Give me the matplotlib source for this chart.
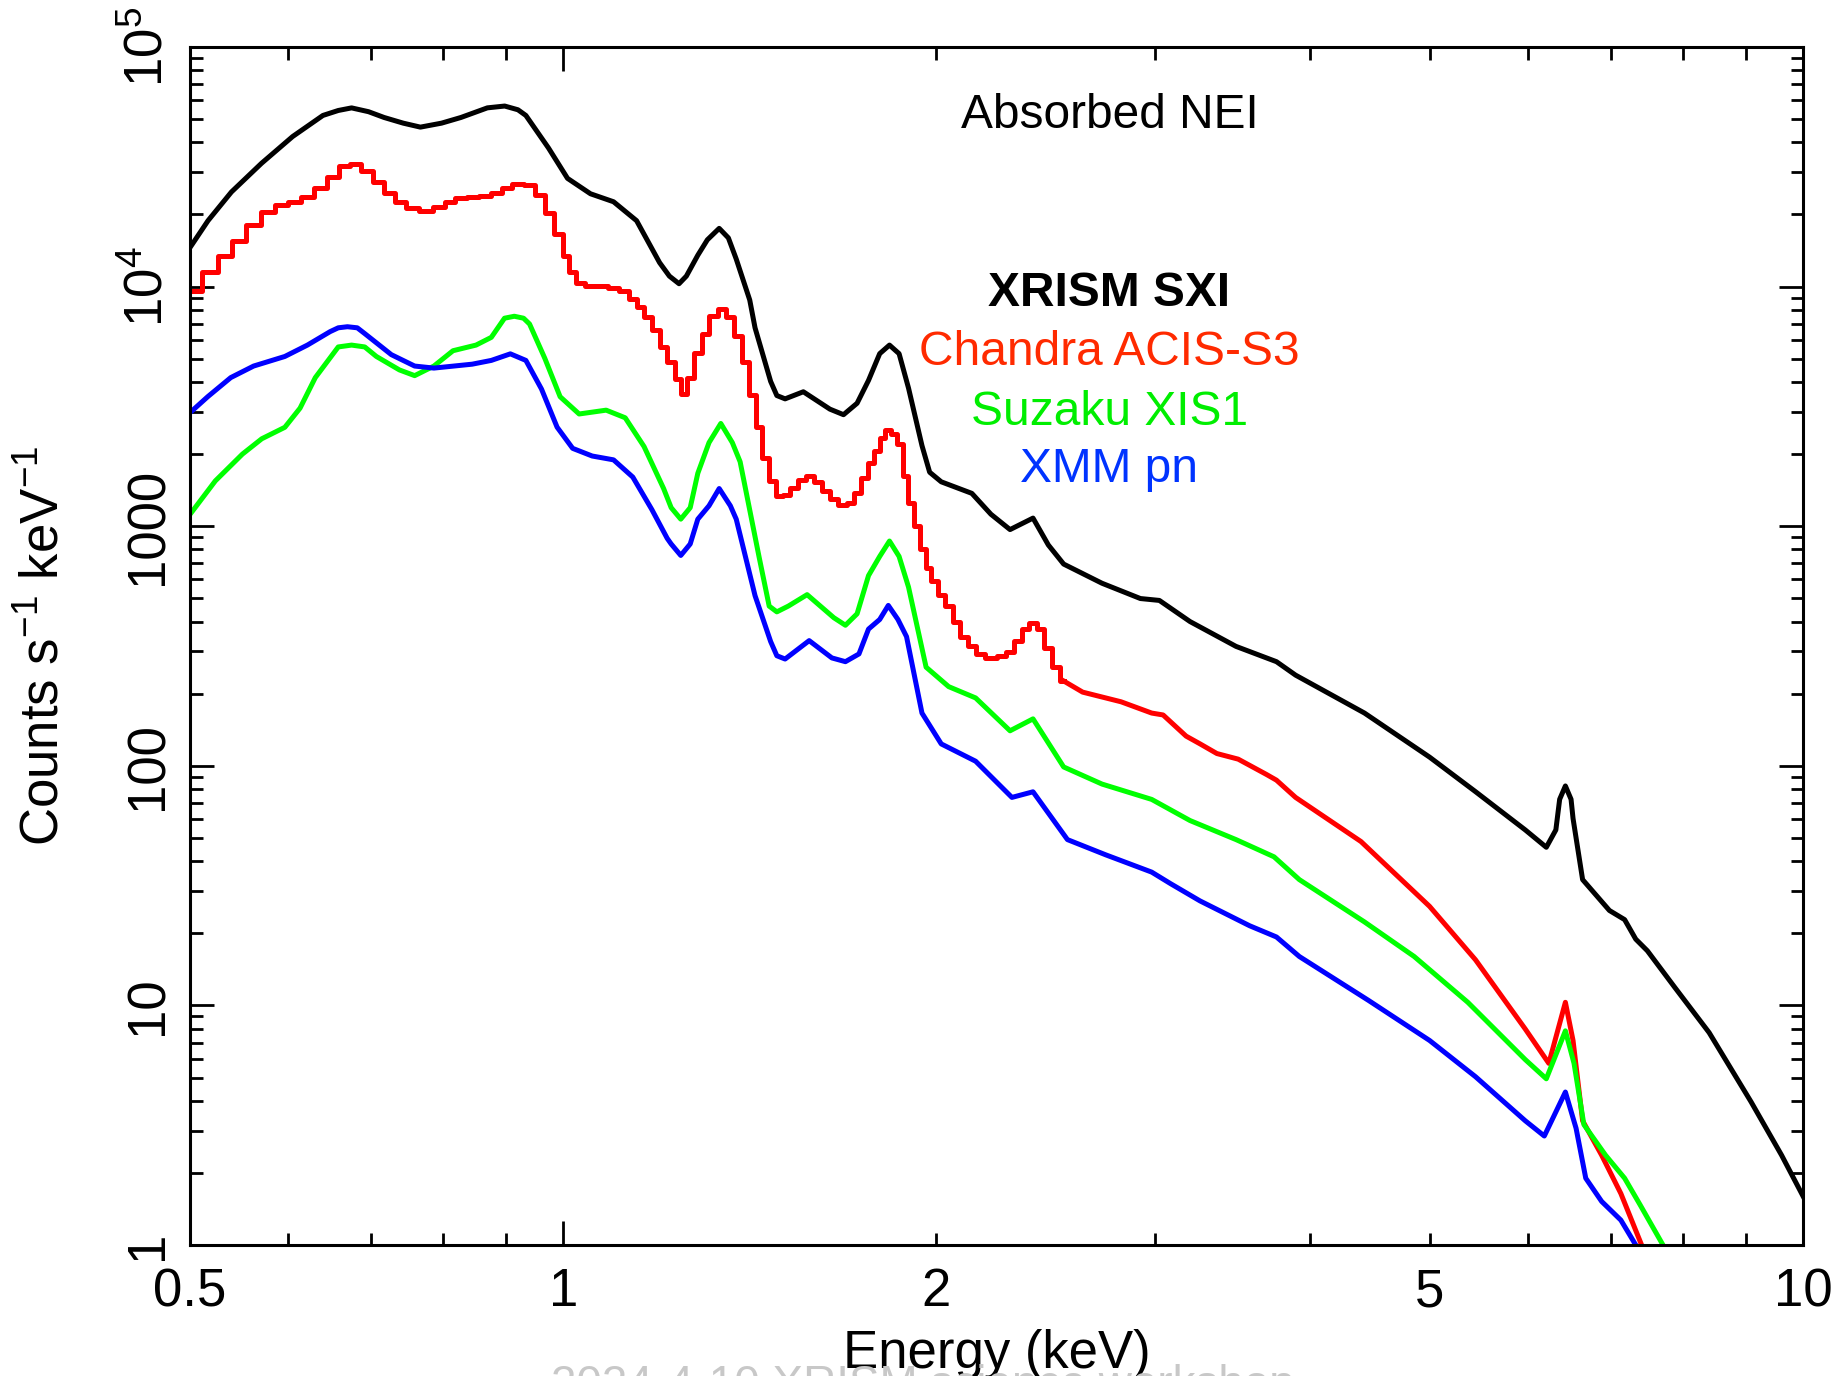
import numpy as np
import matplotlib
matplotlib.use("Agg")
import matplotlib.pyplot as plt
from matplotlib.ticker import FixedLocator, FuncFormatter, NullFormatter

plt.rcParams['font.family'] = ['Liberation Sans', 'DejaVu Sans']
plt.rcParams['mathtext.fontset'] = 'custom'
plt.rcParams['mathtext.rm'] = 'Liberation Sans'
plt.rcParams['mathtext.it'] = 'Liberation Sans:italic'
plt.rcParams['mathtext.bf'] = 'Liberation Sans:bold'

# XRISM SXI (absorbed NEI model), energy in keV, counts/s/keV
sxi_e = [0.500, 0.517, 0.540, 0.571, 0.605, 0.640, 0.6585, 0.675, 0.6966, 0.717,
         0.743, 0.767, 0.7977, 0.827, 0.8686, 0.897, 0.9194, 0.933, 0.973, 1.008,
         1.052, 1.098, 1.146, 1.196, 1.218, 1.240, 1.257, 1.284, 1.307, 1.336,
         1.359, 1.379, 1.414, 1.428, 1.470, 1.487, 1.510, 1.562, 1.641, 1.683,
         1.726, 1.763, 1.800, 1.833, 1.866, 1.899, 1.947, 1.975, 2.018, 2.136,
         2.213, 2.293, 2.393, 2.462, 2.533, 2.720, 2.921, 3.026, 3.203, 3.489,
         3.761, 3.897, 4.429, 4.998, 5.443, 5.970, 6.208, 6.319, 6.364, 6.432,
         6.500, 6.524, 6.641, 6.98, 7.18, 7.33, 7.49, 7.88, 8.40, 9.08,
         9.61, 10.0]
sxi_c = [14550, 18840, 24830, 32700, 42300, 51800, 54330, 55700, 53700, 50800,
         48100, 46300, 48100, 50800, 55720, 56700, 54700, 51800, 37900, 28300,
         24400, 22600, 18840, 12590, 11060, 10280, 11060, 13520, 15680, 17500,
         15970, 13030, 8790, 6730, 4020, 3510, 3400, 3640, 3080, 2920,
         3260, 4060, 5250, 5700, 5250, 3770, 2170, 1680, 1532, 1371,
         1122, 968, 1081, 835, 695, 578, 499, 490, 400, 315,
         272, 239, 166, 108.7, 78.0, 54.0, 45.7, 54.0, 72.5, 82.4,
         72.5, 60.3, 33.5, 24.9, 22.8, 18.9, 16.9, 11.9, 7.7, 3.96,
         2.37, 1.60]

# Chandra ACIS-S3, binned part (bin centres) drawn as steps
acis_bin_e = [0.497, 0.5043, 0.5187, 0.5338, 0.5479, 0.5627, 0.5781, 0.5929, 0.6068, 0.6211,
              0.6377, 0.6529, 0.6655, 0.6799, 0.6945, 0.7095, 0.7248, 0.7389, 0.7547, 0.7753,
              0.7949, 0.8103, 0.8265, 0.8455, 0.8656, 0.8843, 0.9001, 0.9194, 0.9406, 0.9575,
              0.9748, 0.9923, 1.0051, 1.016, 1.031, 1.053, 1.075, 1.098, 1.122, 1.138,
              1.154, 1.171, 1.188, 1.205, 1.222, 1.238, 1.250, 1.266, 1.284, 1.302,
              1.321, 1.343, 1.364, 1.384, 1.403, 1.422, 1.439, 1.456, 1.473, 1.496,
              1.513, 1.535, 1.557, 1.581, 1.607, 1.630, 1.653, 1.679, 1.707, 1.728,
              1.750, 1.771, 1.790, 1.809, 1.829, 1.848, 1.868, 1.888, 1.908, 1.929,
              1.950, 1.971, 1.992, 2.018, 2.046, 2.076, 2.106, 2.136, 2.166, 2.213,
              2.261, 2.293, 2.326, 2.360, 2.393, 2.427, 2.462, 2.497, 2.533]
acis_bin_c = [9616, 9616, 11550, 13430, 15560, 18030, 20420, 21830, 22490, 23660,
              25760, 28770, 31770, 32500, 30400, 27420, 24660, 22490, 21190, 20650,
              21590, 22650, 23500, 23770, 23850, 24660, 25760, 26920, 26430, 24200,
              20280, 16570, 13430, 11470, 10380, 10090, 10090, 9900, 9550, 8870,
              8240, 7460, 6610, 5600, 4830, 4100, 3575, 4170, 5300, 6370,
              7510, 8030, 7460, 6250, 4830, 3537, 2590, 1928, 1546, 1334,
              1347, 1450, 1561, 1619, 1532, 1397, 1298, 1228, 1251, 1372,
              1589, 1841, 2056, 2339, 2518, 2427, 2213, 1619, 1251, 1004,
              805, 670, 589, 518, 464, 400, 346, 315, 293, 282,
              288, 298, 333, 372, 393, 372, 310, 258, 226]
# Chandra ACIS-S3, high energy part
acis_e = [2.533, 2.624, 2.818, 2.983, 3.047, 3.180, 3.263, 3.367, 3.503, 3.692,
          3.761, 3.897, 4.400, 4.998, 5.443, 5.970, 6.237, 6.432, 6.524, 6.641,
          6.88, 7.13, 7.41]
acis_c = [226, 203, 185, 166, 163, 133, 123.5, 112.5, 106.6, 92,
          87.1, 73.8, 48.3, 25.9, 15.5, 7.97, 5.73, 10.3, 7.14, 3.30,
          2.37, 1.64, 1.0]

# Suzaku XIS1
xis_e = [0.5007, 0.5241, 0.5511, 0.5713, 0.5963, 0.6134, 0.6310, 0.6585, 0.6750, 0.6917,
         0.7068, 0.7377, 0.7589, 0.7865, 0.8149, 0.8505, 0.8750, 0.8967, 0.9132, 0.9290,
         0.9394, 0.9664, 0.9943, 1.030, 1.083, 1.122, 1.162, 1.205, 1.222, 1.244,
         1.266, 1.284, 1.311, 1.340, 1.369, 1.389, 1.439, 1.466, 1.487, 1.519,
         1.573, 1.653, 1.689, 1.726, 1.763, 1.800, 1.833, 1.866, 1.899, 1.962,
         2.046, 2.151, 2.293, 2.393, 2.533, 2.720, 2.983, 3.203, 3.489, 3.744,
         3.924, 4.429, 4.857, 5.366, 5.970, 6.208, 6.432, 6.536, 6.657, 6.93,
         7.18, 7.39, 7.71]
xis_c = [1131, 1546, 1999, 2317, 2587, 3110, 4170, 5600, 5700, 5600,
         5110, 4490, 4250, 4660, 5400, 5700, 6140, 7380, 7520, 7380,
         6980, 5020, 3470, 2940, 3050, 2835, 2150, 1436, 1195, 1070,
         1195, 1663, 2233, 2684, 2233, 1857, 741, 464, 439, 464,
         518, 415, 386, 431, 622, 748, 867, 748, 557, 258,
         214, 192, 140, 157, 98.9, 83.9, 72.4, 59.1, 49.2, 41.7,
         33.5, 22.3, 16.0, 10.3, 5.94, 4.94, 7.83, 5.73, 3.18, 2.37,
         1.90, 1.47, 1.0]

# XMM pn
pn_e = [0.5007, 0.5168, 0.5393, 0.5627, 0.5963, 0.6218, 0.6487, 0.6585, 0.6698, 0.6822,
        0.6916, 0.7267, 0.7589, 0.7865, 0.8445, 0.8750, 0.9065, 0.9330, 0.9605, 0.9887,
        1.0177, 1.0553, 1.098, 1.138, 1.179, 1.213, 1.222, 1.244, 1.266, 1.284,
        1.311, 1.336, 1.364, 1.379, 1.428, 1.470, 1.487, 1.510, 1.579, 1.647,
        1.689, 1.732, 1.763, 1.800, 1.829, 1.862, 1.892, 1.947, 2.018, 2.151,
        2.301, 2.393, 2.551, 2.739, 2.983, 3.090, 3.263, 3.578, 3.761, 3.924,
        4.461, 4.998, 5.443, 5.970, 6.185, 6.432, 6.561, 6.68, 6.88, 7.13,
        7.33]
pn_c = [2997, 3473, 4170, 4660, 5110, 5700, 6490, 6730, 6800, 6730,
        6370, 5200, 4660, 4570, 4745, 4920, 5240, 4920, 3735, 2590,
        2113, 1963, 1892, 1603, 1173, 890, 843, 755, 843, 1070,
        1217, 1436, 1217, 1070, 513, 330, 288, 279, 333, 282,
        272, 293, 372, 408, 467, 408, 346, 166, 123.4, 104.5,
        73.8, 77.9, 49.2, 42.5, 36.0, 32.2, 27.3, 21.5, 19.3, 16.0,
        10.5, 7.14, 5.04, 3.30, 2.85, 4.35, 3.07, 1.90, 1.52, 1.27,
        1.0]

x_labels = {0.5: '0.5', 1: '1', 2: '2', 5: '5', 10: '10'}
y_ticks = [1, 10, 100, 1000, 1e4, 1e5]
y_labels = ['1', '10', '100', '1000', r'$10^{4}$', r'$10^{5}$']

fig = plt.figure(figsize=(18.39, 13.76), dpi=100)
ax = fig.add_axes([190 / 1839, 1 - 1245 / 1376, 1613 / 1839, 1198 / 1376])

lw = 3.6
ax.plot(sxi_e, sxi_c, color='black', lw=lw)
ax.plot(acis_bin_e, acis_bin_c, color='red', lw=lw, drawstyle='steps-mid')
ax.plot(acis_e, acis_c, color='red', lw=lw)
ax.plot(xis_e, xis_c, color='#00ff00', lw=lw)
ax.plot(pn_e, pn_c, color='blue', lw=lw)

ax.set_xscale('log')
ax.set_yscale('log')
ax.set_xlim(0.5, 10)
ax.set_ylim(1, 1e5)

# x ticks: long at decades, short elsewhere, labels at 0.5, 1, 2, 5, 10
ax.xaxis.set_major_locator(FixedLocator([1, 10]))
ax.xaxis.set_minor_locator(FixedLocator([0.5, 0.6, 0.7, 0.8, 0.9, 2, 3, 4, 5, 6, 7, 8, 9]))
fmt = FuncFormatter(lambda v, p: x_labels.get(round(v, 3), ''))
ax.xaxis.set_major_formatter(fmt)
ax.xaxis.set_minor_formatter(fmt)

ax.set_yticks(y_ticks, y_labels)
ax.yaxis.set_minor_formatter(NullFormatter())

for s in ax.spines.values():
    s.set_linewidth(2.2)
ax.tick_params(which='both', direction='in', top=True, right=True, width=2.0,
               labelsize=38)
ax.tick_params(which='major', length=17)
ax.tick_params(which='minor', length=9)
ax.tick_params(axis='x', which='both', pad=16)
ax.tick_params(axis='y', which='both', pad=12, labelrotation=90)
for t in ax.get_yticklabels():
    t.set_va('center')

ax.set_xlabel('Energy (keV)', fontsize=38)
ax.xaxis.set_label_coords(0.5, (1245 - 1368) / 1198)
ax.xaxis.label.set_va('baseline')
ax.set_ylabel(r'Counts s$^{-1}$ keV$^{-1}$', fontsize=38)
ax.yaxis.set_label_coords((44 - 190) / 1613, 0.5)
ax.yaxis.label.set_va('center')

ax.text(0.570, 0.943, 'Absorbed NEI', transform=ax.transAxes, ha='center', va='center',
        fontsize=34.5)
ax.text(0.570, 0.794, 'XRISM SXI', transform=ax.transAxes, ha='center', va='center',
        fontsize=34.5, fontweight='bold', color='black')
ax.text(0.570, 0.745, 'Chandra ACIS-S3', transform=ax.transAxes, ha='center', va='center',
        fontsize=34.5, color='#ff2a00')
ax.text(0.570, 0.695, 'Suzaku XIS1', transform=ax.transAxes, ha='center', va='center',
        fontsize=34.5, color='#00ee00')
ax.text(0.570, 0.647, 'XMM pn', transform=ax.transAxes, ha='center', va='center',
        fontsize=34.5, color='#0033ff')

fig.text(551 / 1839, 1 - 1364 / 1376, '2024-4-10 XRISM science workshop', ha='left',
         va='top', fontsize=33, color='#c8c8c8', zorder=0)

fig.savefig('out.png', dpi=100)
